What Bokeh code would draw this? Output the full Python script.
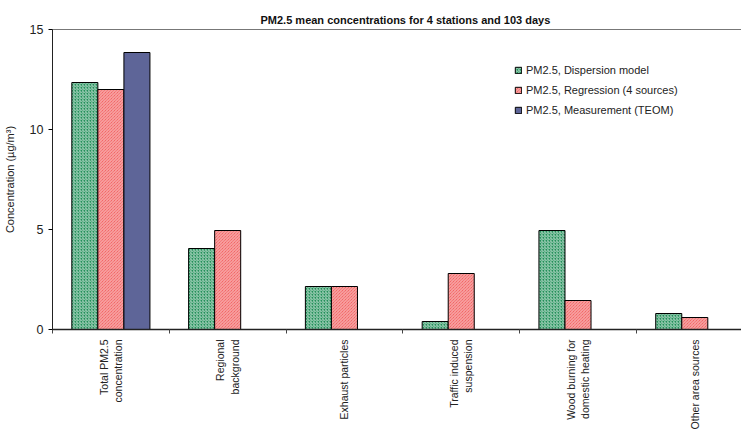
from bokeh.plotting import figure
from bokeh.models import (ColumnDataSource, FixedTicker, Range1d, Legend, LegendItem,
                          LinearAxis, Title)
from bokeh.embed import file_html
from bokeh.resources import INLINE

categories = ["Total PM2.5\nconcentration", "Regional\nbackground", "Exhaust particles",
              "Traffic induced\nsuspension", "Wood burning for\ndomestic heating",
              "Other area sources"]
dispersion = [12.35, 4.05, 2.15, 0.4, 4.95, 0.8]
regression = [12.0, 4.95, 2.15, 2.8, 1.45, 0.6]
measurement = [13.85, None, None, None, None, None]
series_names = ["PM2.5, Dispersion model", "PM2.5, Regression (4 sources)",
                "PM2.5, Measurement (TEOM)"]
y_ticks = [0, 5, 10, 15]

FONT = "Liberation Sans"
n = len(categories)
centers = [i + 0.5 for i in range(n)]
bw = 0.223

p = figure(width=735, height=423, output_backend="svg", toolbar_location=None,
           x_range=Range1d(0, 5.9), y_range=Range1d(0, 15),
           min_border_left=44, min_border_right=0, min_border_top=29, min_border_bottom=10)
p.frame_width = 689
p.frame_height = 300
p.outline_line_color = None
p.grid.visible = False
p.background_fill_color = "white"

p.title = Title(text="PM2.5 mean concentrations for 4 stations and 103 days",
                text_font=FONT, text_font_size="11px", text_font_style="bold",
                align="left", offset=208, standoff=8, text_color="#111111")

def src(vals, off):
    xs, ys = [], []
    for c, v in zip(centers, vals):
        if v is not None:
            xs.append(c + off)
            ys.append(v)
    return ColumnDataSource(dict(x=xs, top=ys))

r1 = p.vbar(x="x", top="top", width=bw, bottom=0, source=src(dispersion, -bw),
            fill_color="#23905a", line_color="black", line_width=1,
            hatch_pattern="right_diagonal_line", hatch_color="white", hatch_alpha=0.6,
            hatch_scale=3, hatch_weight=1)
r2 = p.vbar(x="x", top="top", width=bw, bottom=0, source=src(regression, 0),
            fill_color="#f04c4c", line_color="black", line_width=1,
            hatch_pattern="left_diagonal_line", hatch_color="white", hatch_alpha=0.6,
            hatch_scale=3, hatch_weight=1)
r3 = p.vbar(x="x", top="top", width=bw, bottom=0, source=src(measurement, bw),
            fill_color="#5e6598", line_color="black", line_width=1)

# x axis: labels at centers, tick marks at category boundaries
xa = p.xaxis[0]
xa.ticker = FixedTicker(ticks=centers, minor_ticks=list(range(n + 1)))
xa.major_label_overrides = {c: lab for c, lab in zip(centers, categories)}
xa.major_label_orientation = 1.5708
xa.major_tick_line_color = None
xa.minor_tick_in = 0
xa.minor_tick_out = 4
xa.minor_tick_line_color = "#444444"
xa.axis_line_color = "#222222"
xa.axis_line_width = 1.5
xa.major_label_text_font = FONT
xa.major_label_text_font_size = "10.5px"
xa.major_label_text_color = "#222222"
xa.major_label_standoff = 4

ya = p.yaxis[0]
ya.ticker = FixedTicker(ticks=y_ticks)
ya.minor_tick_line_color = None
ya.major_tick_in = 0
ya.major_tick_out = 4
ya.axis_line_color = "#222222"
ya.major_label_text_font = FONT
ya.major_label_text_font_size = "12.5px"
ya.major_label_text_color = "#222222"
ya.axis_label = "Concentration (µg/m³)"
ya.axis_label_text_font = FONT
ya.axis_label_text_font_size = "11px"
ya.axis_label_text_font_style = "normal"
ya.axis_label_text_color = "#222222"
ya.axis_label_standoff = 11

top = LinearAxis(ticker=FixedTicker(ticks=[]), major_label_text_font_size="0px",
                 major_tick_line_color=None, minor_tick_line_color=None,
                 axis_line_color="#777777")
p.add_layout(top, "above")

legend = Legend(items=[LegendItem(label=series_names[0], renderers=[r1]),
                       LegendItem(label=series_names[1], renderers=[r2]),
                       LegendItem(label=series_names[2], renderers=[r3])],
                location=(462, 212), border_line_color=None, background_fill_alpha=0,
                glyph_width=8, glyph_height=8, label_text_font=FONT,
                label_text_font_size="11px", label_text_color="#222222",
                spacing=5, label_standoff=4, label_height=15)
p.add_layout(legend)

open("out.html", "w").write(file_html(p, INLINE))
